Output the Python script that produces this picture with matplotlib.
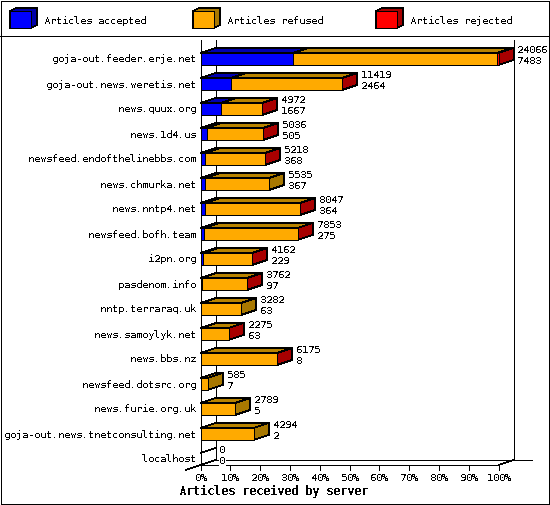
"""Stacked pseudo-3D horizontal bars of articles received per news server."""

import matplotlib

matplotlib.use("Agg")

import matplotlib.pyplot as plt
from matplotlib.patches import Polygon, Rectangle

servers = [
    "goja-out.feeder.erje.net", "goja-out.news.weretis.net", "news.quux.org",
    "news.1d4.us", "newsfeed.endofthelinebbs.com", "news.chmurka.net",
    "news.nntp4.net", "newsfeed.bofh.team", "i2pn.org", "pasdenom.info",
    "nntp.terraraq.uk", "news.samoylyk.net", "news.bbs.nz", "newsfeed.dotsrc.org",
    "news.furie.org.uk", "goja-out.news.tnetconsulting.net", "localhost",
]
totals = [24066, 11419, 4972, 5036, 5218, 5535, 8047, 7853, 4162, 3762, 3282, 2275, 6175, 585, 2789, 4294, 0]
accepted = [7483, 2464, 1667, 505, 368, 367, 364, 275, 229, 97, 63, 63, 8, 7, 5, 2, 0]
rejected = [140, 30, 10, 10, 10, 0, 10, 10, 10, 10, 0, 10, 10, 0, 0, 0, 0]
legend_labels = ["Articles accepted", "Articles refused", "Articles rejected"]
tick_labels = ["0%", "10%", "20%", "30%", "40%", "50%", "60%", "70%", "80%", "90%", "100%"]
xlabel = "Articles received by server"

W, H = 550, 505
X0, X100 = 200.5, 498.5
DX, DY = 15, 5
ROW0, ROW_STEP = 59, 25
BAR_H = 12
TOP, BOTTOM = 40, 465
LW = 0.55  # about one pixel at 100 dpi once aliased

FACE = {"acc": "#0000ff", "ref": "#ffaa00", "rej": "#ff0000"}
TOPC = {"acc": "#0000b0", "ref": "#b88300", "rej": "#b00000"}
SIDE = {"acc": "#0000a8", "ref": "#a87800", "rej": "#a80000"}
MONO = "DejaVu Sans Mono"
TEXT_SIZE = 7.2

plt.rcParams["text.antialiased"] = False
plt.rcParams["text.hinting"] = "native"
plt.rcParams["text.hinting_factor"] = 1


def xpos(pct):
    return X0 + (X100 - X0) * pct / 100.0


def box(ax, x1, x2, y, kind, zorder, side=False):
    ax.add_patch(Polygon([(x1, y - BAR_H / 2), (x1 + DX, y - BAR_H / 2 - DY),
                          (x2 + DX, y - BAR_H / 2 - DY), (x2, y - BAR_H / 2)],
                         fc=TOPC[kind], ec="black", lw=LW, aa=False, zorder=zorder))
    if side:
        ax.add_patch(Polygon([(x2, y - BAR_H / 2), (x2 + DX, y - BAR_H / 2 - DY),
                              (x2 + DX, y + BAR_H / 2 - DY), (x2, y + BAR_H / 2)],
                             fc=SIDE[kind], ec="black", lw=LW, aa=False, zorder=zorder))
    ax.add_patch(Rectangle((x1, y - BAR_H / 2), x2 - x1, BAR_H,
                           fc=FACE[kind], ec="black", lw=LW, aa=False, zorder=zorder + 0.1))


def line(ax, xs, ys, zorder=1):
    ax.plot(xs, ys, color="black", lw=LW, aa=False, zorder=zorder, solid_capstyle="butt")


def main():
    fig = plt.figure(figsize=(W / 100, H / 100), dpi=100, facecolor="white")
    ax = fig.add_axes([0, 0, 1, 1])
    ax.set_xlim(0, W)
    ax.set_ylim(H, 0)
    ax.axis("off")

    # frame and legend band
    ax.add_patch(Rectangle((0.5, 0.5), W - 1.5, H - 1.5, fc="none", ec="black", lw=LW, aa=False))
    line(ax, [0, W], [35.5, 35.5])
    for lx, kind, label in zip([10, 193, 376], ["acc", "ref", "rej"], legend_labels):
        ax.add_patch(Polygon([(lx, 11), (lx + 6, 8), (lx + 27, 8), (lx + 27, 25), (lx + 21, 28), (lx, 28)],
                             fc=SIDE[kind], ec="black", lw=LW, aa=False))
        ax.add_patch(Rectangle((lx, 11), 21, 17, fc=FACE[kind], ec="black", lw=LW, aa=False))
        ax.text(lx + 34, 20.5, label, family=MONO, size=TEXT_SIZE, va="center", ha="left")

    # axes walls
    line(ax, [X0, X0], [TOP, BOTTOM])
    line(ax, [X0 + DX, X0 + DX], [TOP, BOTTOM - DY])
    line(ax, [X100 + DX, X100 + DX], [TOP, BOTTOM - DY])
    line(ax, [X0, X100], [BOTTOM, BOTTOM])
    line(ax, [X0 + DX, X100 + DX + 18], [BOTTOM - DY, BOTTOM - DY])
    line(ax, [X0 - 15, X0 + DX], [BOTTOM + 5, BOTTOM - DY])
    line(ax, [X100, X100 + DX], [BOTTOM, BOTTOM - DY])

    for i, label in enumerate(tick_labels):
        x = xpos(i * 10)
        line(ax, [x, x], [BOTTOM, BOTTOM + 5])
        ax.text(x, BOTTOM + 13, label, family=MONO, size=TEXT_SIZE, ha="center", va="center")
    ax.text(273.5, 492, xlabel, family=MONO, weight="bold", size=8.4, ha="center", va="center")

    for i, name in enumerate(servers):
        y = ROW0 + i * ROW_STEP
        total = totals[i]
        ax.text(196, y + 0.5, name, family=MONO, size=TEXT_SIZE, ha="right", va="center")
        z = 2 + i
        if total > 0:
            p1 = accepted[i] / totals[0] * 100
            p2 = (total - rejected[i]) / totals[0] * 100
            p3 = total / totals[0] * 100
            box(ax, xpos(0), xpos(p1), y, "acc", z)
            if rejected[i] > 0:
                box(ax, xpos(p1), xpos(p2), y, "ref", z)
                box(ax, xpos(p2), xpos(p3), y, "rej", z, side=True)
            else:
                box(ax, xpos(p1), xpos(p3), y, "ref", z, side=True)
        else:
            p3 = 0
            line(ax, [xpos(0), xpos(0) + DX], [y + BAR_H / 2, y + BAR_H / 2 - DY], zorder=z)
            line(ax, [xpos(0), xpos(0) + DX], [y - BAR_H / 2, y - BAR_H / 2 - DY], zorder=z)
        tx = xpos(p3) + DX + 4
        for dy, value in ((-9, total), (2, accepted[i])):
            ax.text(tx, y + dy, str(value), family=MONO, size=TEXT_SIZE, ha="left", va="center",
                    zorder=50, bbox=dict(fc="white", ec="none", pad=0.5))

    fig.savefig("out.png", dpi=100, facecolor="white")
    plt.close(fig)


if __name__ == "__main__":
    main()
